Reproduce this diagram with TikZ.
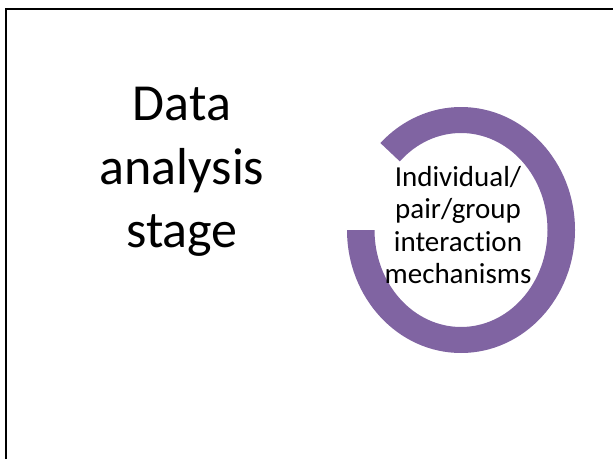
\documentclass[tikz,border=0pt]{standalone}
\usepackage{fontspec}
\setmainfont{Carlito}[Ligatures={NoCommon,NoRare}]
\usepackage{tikz}
\usetikzlibrary{calc}
\definecolor{ringpurple}{RGB}{128,100,162}
\tikzset{stagetext/.style={align=center,inner sep=0pt,font=\fontsize{52}{63.5}\selectfont},
	ringtext/.style={align=center,inner sep=0pt,font=\fontsize{29}{32.5}\selectfont},
	frame/.style={draw=black,line width=2pt}}

\begin{document}
\begin{tikzpicture}[x=1pt,y=1pt]
				      \useasboundingbox (0,0) rectangle (613,459);
				      \draw[frame] (6,0) -- (6,450) -- (613,450);

				      \coordinate (C) at (461,229);
				      \fill[ringpurple] ($(C)+(180:114 and 123)$) arc[start angle=180,end angle=495,x radius=114,y radius=123]
				          -- ($(C)+(135:86.5 and 97)$) arc[start angle=495,end angle=180,x radius=86.5,y radius=97] -- cycle;

				      \node[stagetext] (S) at (182,287) {Data\\analysis\\stage};
				      \node[ringtext] (M) at (458,234) {Individual/\\pair/group\\interaction\\mechanisms};
			      \end{tikzpicture}
\end{document}
